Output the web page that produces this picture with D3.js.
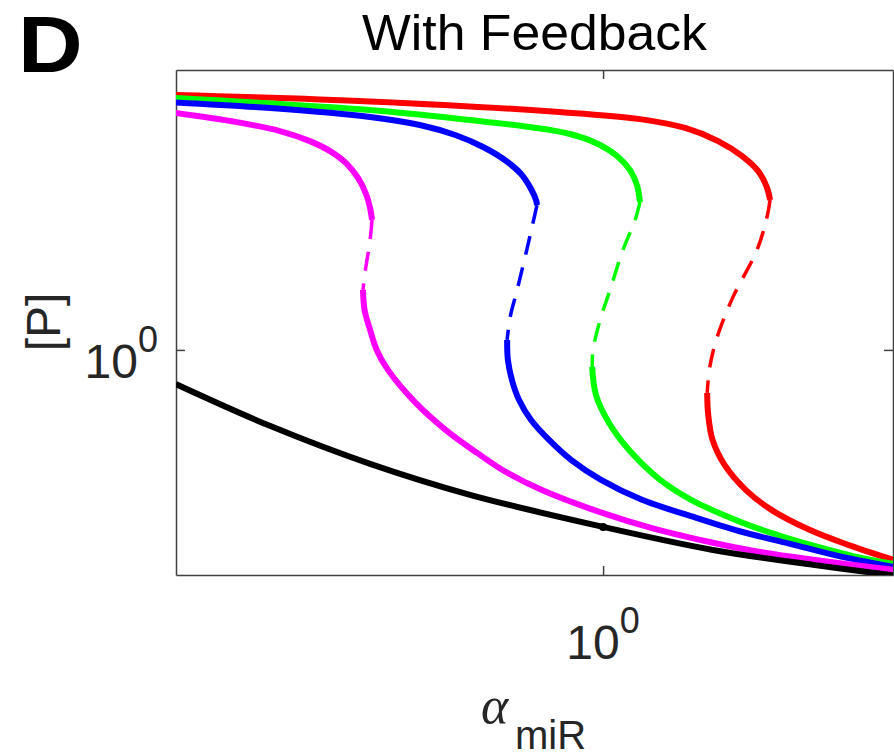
<!DOCTYPE html>
<html>
<head>
<meta charset="utf-8">
<script src="https://cdn.jsdelivr.net/npm/d3@7"></script>
<style>
  body { margin: 0; background: #fff; }
  text { font-family: "Liberation Sans", Arial, sans-serif; fill: #262626; }
</style>
</head>
<body>
<svg id="chart" width="894" height="756"></svg>
<script>
// Axis ranges (log-log) and ticks
const xDomain = [0.1942, 3.042];
const yDomain = [0.2995, 4.479];
const xTickValues = [1];
const yTickValues = [1];
const xTickExponents = ["0"];
const yTickExponents = ["0"];

// Steady state without feedback: [alpha_miR, P]
const blackCurve = [
  [0.194, 0.833], [0.279, 0.665], [0.409, 0.543], [0.600, 0.460],
  [1.000, 0.3875], [1.524, 0.3425], [2.239, 0.3162], [3.041, 0.299]
];
const blackMarker = [[1.0, 0.3875]];

// With feedback: upper stable, unstable and lower stable branches
const magentaUpper = [
  [0.194, 3.558], [0.2454, 3.387], [0.2894, 3.230], [0.3247, 3.060],
  [0.3507, 2.901], [0.373, 2.720], [0.3905, 2.512], [0.4027, 2.305],
  [0.409, 2.139], [0.412, 2.006]
];
const magentaUnstable = [
  [0.412, 2.006], [0.409, 1.802], [0.401, 1.509], [0.398, 1.379]
];
const magentaLower = [
  [0.398, 1.379], [0.4004, 1.239], [0.409, 1.113], [0.4195, 1.000],
  [0.438, 0.8985], [0.4877, 0.752], [0.547, 0.651], [0.6166, 0.576],
  [0.681, 0.525], [0.791, 0.472], [1.000, 0.417], [1.206, 0.385],
  [1.524, 0.356], [1.826, 0.3387], [2.239, 0.325], [3.041, 0.308]
];

const blueUpper = [
  [0.194, 3.766], [0.279, 3.653], [0.409, 3.482], [0.495, 3.336],
  [0.567, 3.162], [0.631, 2.965], [0.686, 2.765], [0.730, 2.566],
  [0.7585, 2.368], [0.773, 2.233], [0.776, 2.173]
];
const blueUnstable = [
  [0.776, 2.173], [0.764, 1.973], [0.746, 1.707], [0.719, 1.379],
  [0.700, 1.191], [0.692, 1.055]
];
const blueLower = [
  [0.692, 1.055], [0.694, 0.948], [0.705, 0.850], [0.7244, 0.7645],
  [0.7585, 0.687], [0.8128, 0.6175], [0.8844, 0.555], [0.9924, 0.4985],
  [1.161, 0.448], [1.397, 0.411], [1.689, 0.3786], [2.049, 0.354],
  [2.483, 0.331], [3.041, 0.313]
];

const greenUpper = [
  [0.194, 3.853], [0.409, 3.614], [0.600, 3.425], [0.755, 3.299],
  [0.881, 3.179], [0.981, 3.013], [1.055, 2.826], [1.109, 2.620],
  [1.139, 2.418], [1.152, 2.209]
];
const greenUnstable = [
  [1.152, 2.209], [1.131, 2.006], [1.079, 1.707], [1.027, 1.379],
  [0.9886, 1.173], [0.9623, 1.000], [0.959, 0.913]
];
const greenLower = [
  [0.959, 0.913], [0.973, 0.786], [1.0233, 0.676], [1.105, 0.585],
  [1.245, 0.4985], [1.402, 0.448], [1.710, 0.396], [1.949, 0.3715],
  [2.282, 0.348], [2.620, 0.331], [3.041, 0.318]
];

const redUpper = [
  [0.194, 3.917], [0.409, 3.786], [0.846, 3.577], [1.152, 3.443],
  [1.370, 3.283], [1.555, 3.060], [1.703, 2.826], [1.812, 2.608],
  [1.874, 2.393], [1.898, 2.233]
];
const redUnstable = [
  [1.898, 2.233], [1.874, 2.027], [1.805, 1.707], [1.646, 1.327],
  [1.549, 1.071], [1.506, 0.913], [1.491, 0.794]
];
const redLower = [
  [1.491, 0.794], [1.497, 0.706], [1.522, 0.6175], [1.594, 0.540],
  [1.730, 0.472], [1.911, 0.424], [2.213, 0.381], [2.560, 0.352],
  [3.041, 0.325]
];

const feedbackSeries = [
  { color: "#ff0000", upper: redUpper, unstable: redUnstable, lower: redLower },
  { color: "#00ff00", upper: greenUpper, unstable: greenUnstable, lower: greenLower },
  { color: "#0000ff", upper: blueUpper, unstable: blueUnstable, lower: blueLower },
  { color: "#ff00ff", upper: magentaUpper, unstable: magentaUnstable, lower: magentaLower }
];

const plot = { left: 176, right: 893, top: 70, bottom: 575 };
const svg = d3.select("#chart");

const x = d3.scaleLog().domain(xDomain).range([plot.left, plot.right]);
const y = d3.scaleLog().domain(yDomain).range([plot.bottom, plot.top]);

svg.append("defs").append("clipPath").attr("id", "plot-clip")
  .append("rect")
  .attr("x", plot.left).attr("y", plot.top)
  .attr("width", plot.right - plot.left).attr("height", plot.bottom - plot.top);

// Axes box with inward ticks on all four sides
const axisColor = "#404040";
const tickLen = 9;
function styleAxis(g) {
  g.select(".domain").attr("stroke", axisColor).attr("stroke-width", 1.5);
  g.selectAll(".tick line").attr("stroke", axisColor).attr("stroke-width", 1.5);
  g.selectAll(".tick text").remove();
}
svg.append("g").attr("transform", `translate(0,${plot.bottom})`)
  .call(d3.axisBottom(x).tickValues(xTickValues).tickSizeInner(-tickLen).tickSizeOuter(0))
  .call(styleAxis);
svg.append("g").attr("transform", `translate(0,${plot.top})`)
  .call(d3.axisTop(x).tickValues(xTickValues).tickSizeInner(-tickLen).tickSizeOuter(0))
  .call(styleAxis);
svg.append("g").attr("transform", `translate(${plot.left},0)`)
  .call(d3.axisLeft(y).tickValues(yTickValues).tickSizeInner(-tickLen).tickSizeOuter(0))
  .call(styleAxis);
svg.append("g").attr("transform", `translate(${plot.right},0)`)
  .call(d3.axisRight(y).tickValues(yTickValues).tickSizeInner(-tickLen).tickSizeOuter(0))
  .call(styleAxis);

// Curves
const line = d3.line()
  .x(d => x(d[0]))
  .y(d => y(d[1]))
  .curve(d3.curveCatmullRom.alpha(0.5));

const curves = svg.append("g").attr("clip-path", "url(#plot-clip)");

feedbackSeries.forEach(s => {
  curves.append("path").datum(s.upper)
    .attr("d", line).attr("fill", "none")
    .attr("stroke", s.color).attr("stroke-width", 6)
    .attr("stroke-linejoin", "round");
  curves.append("path").datum(s.unstable)
    .attr("d", line).attr("fill", "none")
    .attr("stroke", s.color).attr("stroke-width", 3.5)
    .attr("stroke-dasharray", "19,13");
  curves.append("path").datum(s.lower)
    .attr("d", line).attr("fill", "none")
    .attr("stroke", s.color).attr("stroke-width", 6)
    .attr("stroke-linejoin", "round");
});

curves.append("path").datum(blackCurve)
  .attr("d", line).attr("fill", "none")
  .attr("stroke", "#000").attr("stroke-width", 6)
  .attr("stroke-linejoin", "round");

curves.selectAll("circle.marker").data(blackMarker).enter()
  .append("circle").attr("class", "marker")
  .attr("cx", d => x(d[0])).attr("cy", d => y(d[1]))
  .attr("r", 4).attr("fill", "#000");

// Tick labels as powers of ten
xTickValues.forEach((v, i) => {
  const t = svg.append("text")
    .attr("x", x(v)).attr("y", 659)
    .attr("text-anchor", "middle")
    .style("font-size", "48px");
  t.append("tspan").text("10");
  t.append("tspan").attr("dy", -26).style("font-size", "36px").text(xTickExponents[i]);
});
yTickValues.forEach((v, i) => {
  const t = svg.append("text")
    .attr("x", 158).attr("y", y(v) + 28)
    .attr("text-anchor", "end")
    .style("font-size", "48px");
  t.append("tspan").text("10");
  t.append("tspan").attr("dy", -26).style("font-size", "36px").text(yTickExponents[i]);
});

// Title, panel letter and axis labels
svg.append("text")
  .attr("x", (plot.left + plot.right) / 2).attr("y", 50)
  .attr("text-anchor", "middle")
  .attr("textLength", 345).attr("lengthAdjust", "spacingAndGlyphs")
  .style("font-size", "50px").style("fill", "#000")
  .text("With Feedback");

svg.append("text")
  .attr("transform", "translate(18,72) scale(1.12,1)")
  .style("font-size", "80px").style("font-weight", "bold").style("fill", "#000")
  .text("D");

svg.append("text")
  .attr("transform", "translate(60,322) rotate(-90)")
  .attr("text-anchor", "middle")
  .style("font-size", "48px")
  .text("[P]");

const xl = svg.append("text").attr("x", 481).attr("y", 723);
xl.append("tspan")
  .style("font-family", "'Liberation Serif', 'DejaVu Serif', serif")
  .style("font-style", "italic")
  .style("font-size", "52px")
  .text("α");
xl.append("tspan")
  .attr("x", 515).attr("y", 749)
  .style("font-size", "40px")
  .text("miR");
</script>
</body>
</html>
